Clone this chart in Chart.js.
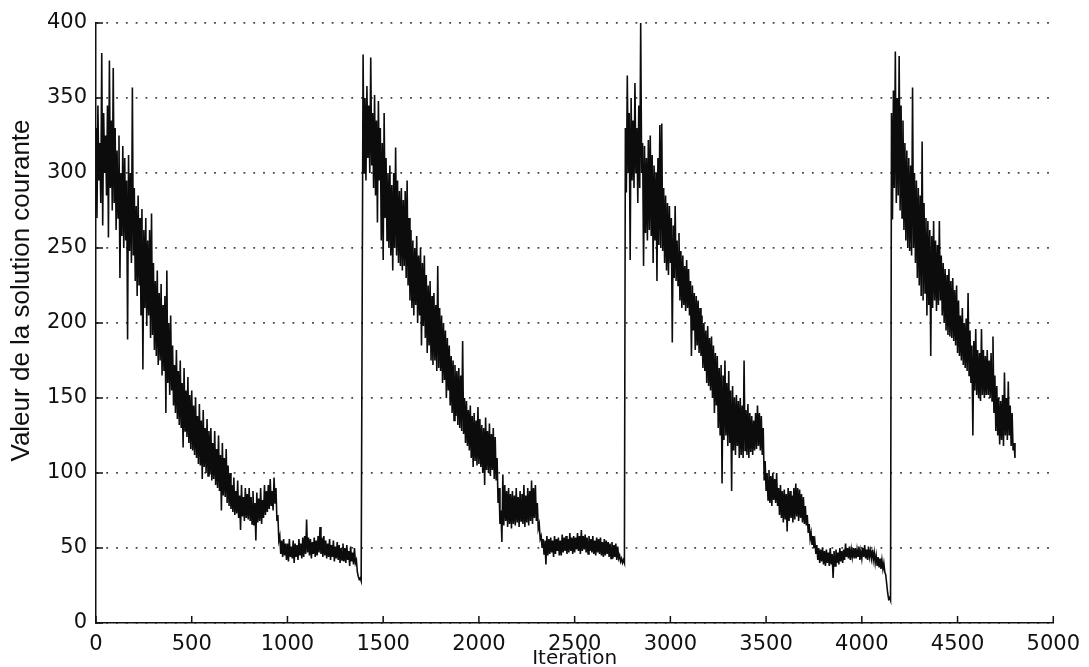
<!DOCTYPE html>
<html>
<head>
<meta charset="utf-8">
<title>Valeur de la solution courante</title>
<script src="https://cdn.jsdelivr.net/npm/chart.js@4.4.0/dist/chart.umd.min.js"></script>
<style>
    html, body { margin: 0; padding: 0; background: #fff; }
    #wrap { width: 1089px; height: 667px; }
</style>
</head>
<body>
<div id="wrap"><canvas id="annealChart" width="1089" height="667"></canvas></div>
<script>
// each run is read off as an upper and a lower trace every RUN_STEP iterations,
// the lower value sits half a step later
const RUN_STEP = 10;

// run 1 : iterations 0 .. 1380
const run1Start = 0;
const run1Hi = [330, 345, 320, 380, 340, 325, 345, 375, 335, 370,
                330, 315, 325, 300, 318, 310, 295, 312, 300, 357,
                290, 278, 285, 270, 276, 262, 270, 255, 262, 273,
                240, 228, 235, 220, 226, 212, 218, 235, 200, 205,
                185, 172, 182, 168, 175, 160, 170, 155, 164, 152,
                155, 145, 150, 138, 146, 135, 142, 130, 136, 128,
                130, 120, 128, 116, 125, 112, 120, 110, 116, 105,
                100,  92,  97,  88,  95,  85,  92,  84,  90,  86,
                 90,  84,  88,  80,  87,  83,  90,  82,  92,  88,
                 92,  96,  88,  97,  90,  72,  58,  55,  56,  53,
                 53,  56,  51,  55,  53,  52,  56,  53,  57,  58,
                 69,  57,  56,  54,  57,  55,  58,  64,  57,  58,
                 55,  53,  56,  52,  55,  51,  54,  52,  50,  53,
                 50,  52,  48,  51,  47,  50,  42,  31,  30];
const run1Lo = [270, 295, 280, 265, 300, 285, 257, 290, 275, 280,
                262, 270, 230, 258, 250, 255, 189, 248, 240, 245,
                228, 218, 225, 205, 169, 210, 198, 205, 190, 192,
                182, 178, 172, 175, 165, 168, 140, 160, 152, 155,
                145, 140, 136, 132, 130, 117, 128, 124, 120, 116,
                115, 112, 110, 106, 105,  96, 104, 100,  98,  99,
                 95,  96,  92,  90,  88,  75,  85,  84,  80,  78,
                 76,  74,  72,  73,  70,  62,  71,  68,  70,  69,
                 68,  66,  65,  55,  67,  68,  66,  70,  72,  74,
                 76,  78,  75,  80,  68,  55,  46,  44,  45,  42,
                 41,  44,  43,  40,  44,  42,  45,  43,  44,  46,
                 47,  45,  43,  46,  44,  45,  47,  46,  44,  45,
                 43,  44,  42,  44,  41,  43,  42,  40,  42,  41,
                 40,  42,  38,  41,  39,  40,  34,  29,  28];

// run 2 : iterations 1395 .. 2755
const run2Start = 1395;
const run2Hi = [379, 350, 358, 345, 377, 340, 352, 335, 348, 330,
                320, 340, 310, 300, 305, 292, 300, 317, 295, 288,
                290, 282, 288, 295, 270, 262, 255, 250, 258, 245,
                250, 240, 245, 232, 225, 228, 218, 220, 212, 238,
                210, 205, 200, 195, 190, 185, 178, 175, 172, 168,
                170, 165, 188, 150, 148, 142, 145, 138, 140, 135,
                144, 136, 132, 130, 137, 128, 133, 126, 130, 124,
                110,  90,  75,  99,  92,  88,  90,  86,  88,  85,
                 90,  84,  88,  86,  92,  85,  90,  88,  95,  90,
                 92,  80,  66,  58,  56,  55,  58,  56,  57,  55,
                 58,  56,  57,  55,  59,  57,  58,  56,  60,  57,
                 58,  57,  60,  58,  62,  58,  59,  57,  58,  56,
                 58,  55,  57,  56,  57,  54,  56,  55,  54,  53,
                 54,  52,  53,  51,  45,  43,  42];
const run2Lo = [300, 295, 310, 300, 305, 290, 285, 267, 295, 255,
                242, 270, 255, 250, 245, 235, 250, 245, 240, 238,
                235, 238, 230, 225, 215, 210, 205, 212, 200, 205,
                185, 198, 190, 180, 185, 175, 172, 175, 168, 170,
                168, 160, 162, 150, 155, 145, 140, 135, 138, 132,
                130, 128, 126, 120, 118, 115, 110, 104, 108, 105,
                106, 104, 100,  92, 102, 100,  98, 102,  96,  95,
                 80,  66,  54,  65,  68,  64,  66,  63,  66,  65,
                 67,  64,  68,  66,  64,  67,  65,  68,  66,  70,
                 68,  63,  56,  50,  46,  39,  45,  46,  47,  44,
                 46,  48,  45,  45,  47,  48,  46,  47,  48,  46,
                 47,  49,  48,  46,  48,  49,  47,  46,  48,  47,
                 46,  45,  47,  46,  45,  44,  45,  46,  44,  43,
                 43,  44,  42,  43,  41,  40,  40];

// run 3 : iterations 2765 .. 4145
const run3Start = 2765;
const run3Hi = [330, 365, 340, 350, 335, 360, 330, 345, 400, 320,
                318, 310, 322, 325, 312, 305, 300, 310, 332, 333,
                290, 285, 280, 278, 270, 265, 278, 255, 260, 248,
                245, 238, 242, 236, 228, 225, 220, 218, 215, 210,
                205, 200, 195, 198, 190, 191, 185, 180, 178, 170,
                172, 165, 175, 160, 168, 155, 158, 150, 152, 148,
                150, 145, 175, 142, 146, 140, 138, 135, 140, 145,
                140, 138, 130, 108, 100, 102,  98, 100,  96, 100,
                 90,  92,  88,  89,  86,  90,  88,  85,  90,  93,
                 90,  89,  86,  84,  78,  72,  66,  60,  58,  54,
                 52,  50,  49,  50,  48,  49,  47,  50,  46,  48,
                 49,  47,  50,  48,  49,  53,  50,  51,  49,  50,
                 50,  49,  51,  48,  50,  52,  49,  51,  48,  49,
                 47,  45,  44,  43,  42,  40,  32,  20,  17];
const run3Lo = [287, 300, 242, 295, 290, 300, 280, 290, 300, 238,
                260, 255, 262, 258, 240, 255, 228, 252, 250, 248,
                240, 235, 232, 240, 187, 230, 228, 225, 215, 210,
                212, 208, 210, 205, 178, 195, 182, 185, 180, 178,
                170, 168, 160, 158, 155, 150, 140, 145, 130, 125,
                 93, 122, 125, 118, 120,  88, 115, 112, 118, 110,
                112, 110, 115, 112, 110, 114, 112, 115, 116, 118,
                115, 112,  95,  88,  82,  80,  78,  82,  80,  78,
                 72,  70,  67,  69,  61,  68,  70,  67,  69,  71,
                 68,  70,  67,  66,  65,  60,  56,  52,  50,  46,
                 42,  40,  41,  39,  38,  40,  38,  39,  30,  38,
                 40,  39,  41,  40,  42,  44,  43,  42,  44,  43,
                 43,  44,  42,  43,  44,  43,  42,  44,  43,  42,
                 40,  38,  37,  36,  36,  34,  26,  16,  15];

// run 4 : iterations 4155 .. 4795
const run4Start = 4155;
const run4Hi = [340, 355, 381, 350, 378, 345, 335, 320, 315, 310,
                305, 357, 300, 295, 290, 285, 321, 280, 270, 268,
                262, 258, 268, 255, 252, 268, 245, 240, 236, 232,
                236, 228, 230, 222, 225, 215, 205, 210, 200, 203,
                220, 195, 185, 188, 196, 182, 180, 196, 182, 178,
                182, 175, 180, 191, 165, 158, 150, 148, 152, 167,
                150, 161, 145, 140, 120];
const run4Lo = [269, 290, 280, 285, 275, 270, 262, 255, 250, 248,
                245, 250, 240, 230, 225, 218, 215, 220, 205, 212,
                178, 210, 215, 208, 212, 215, 205, 200, 195, 192,
                191, 190, 188, 185, 180, 178, 175, 172, 170, 168,
                165, 160, 125, 155, 152, 150, 148, 152, 150, 152,
                152, 150, 148, 140, 128, 125, 119, 122, 118, 125,
                122, 125, 118, 115, 110];

const xTicks = [0, 500, 1000, 1500, 2000, 2500, 3000, 3500, 4000, 4500, 5000];
const yTicks = [0, 50, 100, 150, 200, 250, 300, 350, 400];

const xTitle = 'Iteration';
// leading blanks push the label a bit up the axis, as in the scan
const yTitle = '         Valeur de la solution courante';

function toPoints(start, hi, lo) {
    const pts = [];
    hi.forEach((v, i) => {
        pts.push({ x: start + i * RUN_STEP, y: v });
        pts.push({ x: start + i * RUN_STEP + RUN_STEP / 2, y: lo[i] });
    });
    return pts;
}

// one continuous trace, the restarts give the vertical jumps
const trace = [].concat(
    toPoints(run1Start, run1Hi, run1Lo),
    toPoints(run2Start, run2Hi, run2Lo),
    toPoints(run3Start, run3Hi, run3Lo),
    toPoints(run4Start, run4Hi, run4Lo)
);

// matlab style ticks pointing into the plot
const inwardTicks = {
    id: 'inwardTicks',
    afterDraw(chart) {
        const { ctx, chartArea, scales } = chart;
        ctx.save();
        ctx.strokeStyle = '#111';
        ctx.lineWidth = 1.5;
        ctx.beginPath();
        yTicks.forEach(v => {
            const y = scales.y.getPixelForValue(v);
            ctx.moveTo(chartArea.left, y);
            ctx.lineTo(chartArea.left + 7, y);
        });
        xTicks.forEach(v => {
            const x = scales.x.getPixelForValue(v);
            ctx.moveTo(x, chartArea.bottom);
            ctx.lineTo(x, chartArea.bottom - 7);
        });
        ctx.stroke();
        ctx.restore();
    }
};

const tickFont = { family: '"DejaVu Sans", sans-serif', size: 21 };

new Chart(document.getElementById('annealChart').getContext('2d'), {
    type: 'line',
    data: {
        datasets: [{
            label: 'Valeur de la solution courante',
            data: trace,
            borderColor: '#0c0c0c',
            borderWidth: 1.6,
            pointRadius: 0,
            tension: 0,
            fill: false
        }]
    },
    options: {
        responsive: false,
        animation: false,
        layout: { padding: { top: 23, right: 34, bottom: 0, left: 0 } },
        plugins: {
            legend: { display: false },
            tooltip: { enabled: false }
        },
        scales: {
            x: {
                type: 'linear',
                min: 0,
                max: 5000,
                afterFit: s => { s.height = 44; },
                afterBuildTicks: s => { s.ticks = xTicks.map(v => ({ value: v })); },
                ticks: {
                    color: '#111',
                    font: tickFont,
                    padding: 9,
                    maxRotation: 0,
                    callback: v => String(v)
                },
                grid: { display: true, drawOnChartArea: false, drawTicks: false },
                border: { display: true, color: '#111', width: 1.5 },
                title: {
                    display: true,
                    text: xTitle,
                    color: '#111',
                    font: { family: '"DejaVu Sans", sans-serif', size: 20, lineHeight: 0.8 },
                    padding: { top: 0, bottom: 0 }
                }
            },
            y: {
                min: 0,
                max: 400,
                afterFit: s => { s.width = 96; },
                afterBuildTicks: s => { s.ticks = yTicks.map(v => ({ value: v })); },
                ticks: {
                    color: '#111',
                    font: tickFont,
                    padding: 9,
                    callback: v => String(v)
                },
                grid: { color: '#444', lineWidth: 1.8, drawTicks: false },
                border: { display: true, color: '#111', width: 1.5, dash: [1.8, 8] },
                title: {
                    display: true,
                    text: yTitle,
                    color: '#111',
                    font: { family: '"Liberation Sans", sans-serif', size: 26 },
                    padding: { top: 6, bottom: 0 }
                }
            }
        }
    },
    plugins: [inwardTicks]
});
</script>
</body>
</html>
